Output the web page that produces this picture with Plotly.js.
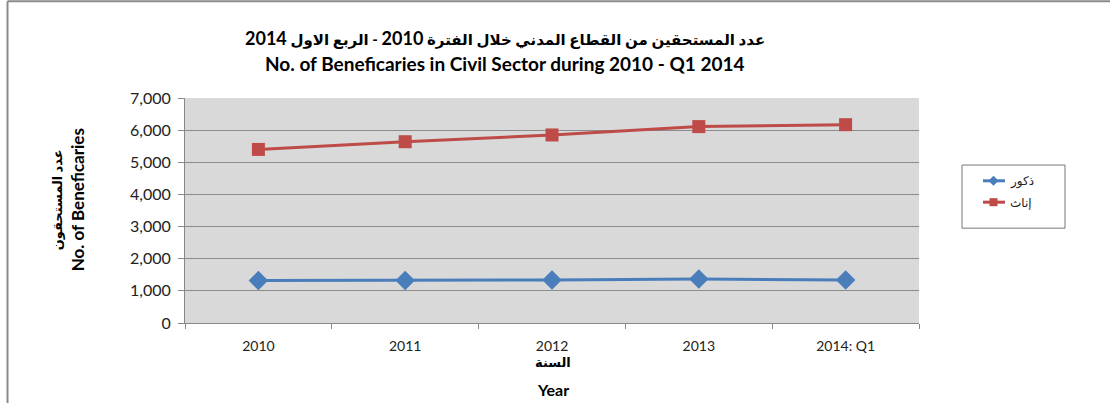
<!DOCTYPE html>
<html>
<head>
<meta charset="utf-8">
<script src="https://cdn.plot.ly/plotly-3.0.1.min.js"></script>
<style>html,body{margin:0;padding:0;background:#fff;}#chart{width:1110px;height:403px;}</style>
</head>
<body>
<div id="chart"></div>
<script>
const categories = ["2010", "2011", "2012", "2013", "2014: Q1"];
const males = [1320, 1320, 1340, 1370, 1340];
const females = [5400, 5640, 5850, 6110, 6170];
const seriesNames = ["ذكور", "إناث"];
const yTicks = [0, 1000, 2000, 3000, 4000, 5000, 6000, 7000];
const colors = ["#4a7ebb", "#be4b48"];

const FONT = "Lato, 'DejaVu Sans', sans-serif";

const traces = [
  {
    x: categories, y: males, name: seriesNames[0], type: "scatter", mode: "lines+markers",
    line: {color: colors[0], width: 3},
    marker: {symbol: "diamond", size: 15, color: colors[0]}
  },
  {
    x: categories, y: females, name: seriesNames[1], type: "scatter", mode: "lines+markers",
    line: {color: colors[1], width: 3},
    marker: {symbol: "square", size: 13, color: colors[1]}
  }
];

// legend (drawn manually to match the original box)
const legX0 = 1.0586, legX1 = 1.1989, legY0 = 0.4215, legY1 = 0.702;
const legRows = [0.632, 0.537];
const legLineX0 = 1.0872, legLineX1 = 1.1172, legMarkX = 1.1015, legTextX = 1.1213;
const markerPaths = ["M-5,0 L0,5 L5,0 L0,-5 Z", "M-4,-4 L4,-4 L4,4 L-4,4 Z"];

const shapes = [
  {type: "line", xref: "paper", yref: "paper", x0: -0.2418, x1: -0.2418, y0: 1.43, y1: -0.45,
   line: {color: "#8a8a8a", width: 2}},
  {type: "line", xref: "paper", yref: "paper", x0: -0.2418, x1: 1.3, y0: 1.4295, y1: 1.4295,
   line: {color: "#8a8a8a", width: 2}},
  {type: "rect", xref: "paper", yref: "paper", x0: legX0, x1: legX1, y0: legY0, y1: legY1,
   line: {color: "#777", width: 1}, fillcolor: "#fff"}
];
const big = s => '<span style="font-size:18px">' + s + '</span>';
const annotations = [
  {text: "<b>عدد المستحقين من القطاع المدني خلال الفترة " + big("2010") + " - الربع الاول " + big("2014") + "</b>",
   xref: "paper", yref: "paper", x: 0.436, y: 1.267, xanchor: "center", yanchor: "middle", showarrow: false,
   font: {family: FONT, size: 15, color: "#000"}},
  {text: "<b>No. of Beneficaries in Civil Sector during 2010 - Q1 2014</b>",
   xref: "paper", yref: "paper", x: 0.436, y: 1.152, xanchor: "center", yanchor: "middle", showarrow: false,
   font: {family: FONT, size: 19, color: "#000"}},
  {text: "<b>عدد المستحقون</b>", xref: "paper", yref: "paper", x: -0.1744, y: 0.55,
   xanchor: "center", yanchor: "middle",
   textangle: -90, showarrow: false, font: {family: FONT, size: 13, color: "#000"}},
  {text: "<b>No. of Beneficaries</b>", xref: "paper", yref: "paper", x: -0.147, y: 0.546,
   xanchor: "center", yanchor: "middle",
   textangle: -90, showarrow: false, font: {family: FONT, size: 17, color: "#000"}},
  {text: "<b>السنة</b>", xref: "paper", yref: "paper", x: 0.501, y: -0.175,
   xanchor: "center", yanchor: "middle",
   showarrow: false, font: {family: FONT, size: 13, color: "#000"}},
  {text: "<b>Year</b>", xref: "paper", yref: "paper", x: 0.501, y: -0.295,
   xanchor: "center", yanchor: "middle",
   showarrow: false, font: {family: FONT, size: 16, color: "#000"}}
];
seriesNames.forEach((nm, i) => {
  shapes.push({type: "line", xref: "paper", yref: "paper", x0: legLineX0, x1: legLineX1,
    y0: legRows[i], y1: legRows[i], line: {color: colors[i], width: 3}});
  shapes.push({type: "path", xref: "paper", yref: "paper", xsizemode: "pixel", ysizemode: "pixel",
    xanchor: legMarkX, yanchor: legRows[i], path: markerPaths[i],
    fillcolor: colors[i], line: {color: colors[i], width: 0}});
  annotations.push({text: nm, xref: "paper", yref: "paper", x: legTextX, y: legRows[i],
    xanchor: "left", yanchor: "middle", showarrow: false,
    font: {family: FONT, size: 12, color: "#222"}});
});

const layout = {
  width: 1110, height: 403,
  margin: {l: 185, r: 191, t: 98, b: 80, pad: 0},
  paper_bgcolor: "#ffffff",
  plot_bgcolor: "#d9d9d9",
  font: {family: FONT, size: 13, color: "#222"},
  showlegend: false,
  xaxis: {
    type: "category", range: [-0.5, 4.5], tickson: "boundaries",
    ticks: "outside", ticklen: 5, tickcolor: "#888",
    ticklabelstandoff: 10,
    showgrid: false, showline: true, linecolor: "#888", linewidth: 1,
    tickfont: {family: FONT, size: 14, color: "#222"},
    fixedrange: true
  },
  yaxis: {
    range: [0, 7000], tickvals: yTicks, tickformat: ",d",
    ticks: "outside", ticklen: 6, tickcolor: "#888",
    ticklabelstandoff: 4,
    showgrid: true, gridcolor: "#8c8c8c", gridwidth: 1,
    showline: true, linecolor: "#888", linewidth: 1, zeroline: false,
    tickfont: {family: FONT, size: 16, color: "#222"},
    fixedrange: true
  },
  annotations: annotations,
  shapes: shapes
};

Plotly.newPlot("chart", traces, layout, {staticPlot: true, displayModeBar: false});
</script>
</body>
</html>
